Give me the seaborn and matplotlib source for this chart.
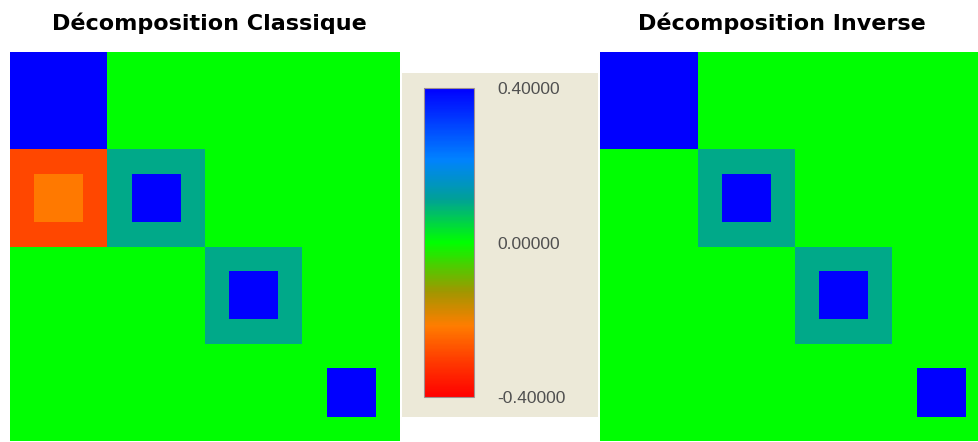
import numpy as np
import seaborn as sns
import matplotlib.pyplot as plt
from matplotlib.colors import LinearSegmentedColormap
from matplotlib.patches import Rectangle

# block values (4x4 blocks): outer ring value and inner core value
classique_outer = [[0.40, 0.00, 0.00, 0.00],
                   [-0.29, 0.10, 0.00, 0.00],
                   [0.00, 0.00, 0.10, 0.00],
                   [0.00, 0.00, 0.00, 0.00]]
classique_inner = [[0.40, 0.00, 0.00, 0.00],
                   [-0.22, 0.40, 0.00, 0.00],
                   [0.00, 0.00, 0.40, 0.00],
                   [0.00, 0.00, 0.00, 0.40]]
inverse_outer = [[0.40, 0.00, 0.00, 0.00],
                 [0.00, 0.10, 0.00, 0.00],
                 [0.00, 0.00, 0.10, 0.00],
                 [0.00, 0.00, 0.00, 0.00]]
inverse_inner = [[0.40, 0.00, 0.00, 0.00],
                 [0.00, 0.40, 0.00, 0.00],
                 [0.00, 0.00, 0.40, 0.00],
                 [0.00, 0.00, 0.00, 0.40]]
titles = ['Décomposition Classique', 'Décomposition Inverse']
vmin, vmax = -0.4, 0.4
cbar_ticks = [-0.4, 0.0, 0.4]


def expand(outer, inner, n=4):
    # each block becomes n x n cells, with the inner value in the central cells
    ring = np.kron(np.array(outer), np.ones((n, n)))
    core = np.kron(np.array(inner), np.ones((n, n)))
    mask = np.kron(np.ones((4, 4)), np.pad(np.ones((n - 2, n - 2)), 1))
    return np.where(mask == 1, core, ring)


cmap = LinearSegmentedColormap.from_list('rgb_map', [
    (0.00, (1.00, 0.00, 0.00)),
    (0.12, (1.00, 0.24, 0.00)),
    (0.23, (1.00, 0.49, 0.00)),
    (0.34, (0.63, 0.59, 0.00)),
    (0.50, (0.00, 1.00, 0.00)),
    (0.64, (0.00, 0.63, 0.59)),
    (0.77, (0.00, 0.51, 1.00)),
    (1.00, (0.00, 0.00, 1.00)),
])

W, H = 979, 442
fig = plt.figure(figsize=(W / 100, H / 100), dpi=100)
fig.patch.set_facecolor('white')

# beige panel behind the colour bar
fig.add_artist(Rectangle((402 / W, 25 / H), 196 / W, 344 / H,
                         transform=fig.transFigure, facecolor='#ece9d8',
                         edgecolor='none', zorder=0))

ax1 = fig.add_axes([10 / W, 1 / H, 390 / W, 389 / H])
ax2 = fig.add_axes([600 / W, 1 / H, 390 / W, 389 / H])
cax = fig.add_axes([424 / W, 45 / H, 50 / W, 309 / H])

sns.heatmap(expand(classique_outer, classique_inner), ax=ax1, cmap=cmap,
            vmin=vmin, vmax=vmax, xticklabels=False, yticklabels=False,
            cbar_ax=cax, cbar_kws={'ticks': cbar_ticks})
sns.heatmap(expand(inverse_outer, inverse_inner), ax=ax2, cmap=cmap,
            vmin=vmin, vmax=vmax, xticklabels=False, yticklabels=False,
            cbar=False)

for ax in (ax1, ax2):
    ax.tick_params(length=0)

cax.set_yticklabels(['%.5f' % t for t in cbar_ticks])
cax.tick_params(length=0, pad=17, labelsize=12.5, labelcolor='#505050')
for lab in cax.get_yticklabels():
    lab.set_fontfamily('Liberation Sans')
cbar = ax1.collections[0].colorbar
cbar.outline.set_edgecolor('#a09090')
cbar.outline.set_linewidth(0.8)

fig.text(209 / W, 1 - 30 / H, titles[0], ha='center', va='baseline',
         fontsize=16, fontweight='bold')
fig.text(782 / W, 1 - 30 / H, titles[1], ha='center', va='baseline',
         fontsize=16, fontweight='bold')

fig.savefig('out.png', dpi=100)
